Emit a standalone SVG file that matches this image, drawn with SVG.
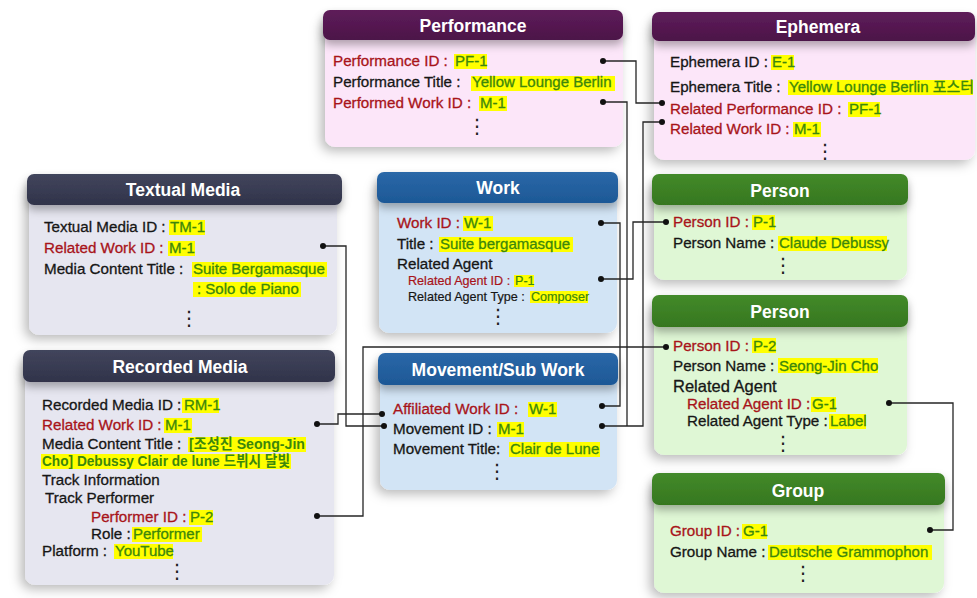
<svg xmlns="http://www.w3.org/2000/svg" width="977" height="598" viewBox="0 0 977 598">
<defs>
  <filter id="boxShadow" x="-20%" y="-20%" width="140%" height="140%">
    <feDropShadow dx="-4" dy="4" stdDeviation="6" flood-color="#000" flood-opacity="0.28"/>
  </filter>
  <filter id="hdrShadow" x="-10%" y="-30%" width="120%" height="190%">
    <feDropShadow dx="0" dy="5" stdDeviation="4" flood-color="#000" flood-opacity="0.3"/>
  </filter>
  <linearGradient id="gPurple" x1="0" y1="0" x2="0" y2="1"><stop offset="0" stop-color="#5e1e5a"/><stop offset="1" stop-color="#4c1248"/></linearGradient>
  <linearGradient id="gNavy" x1="0" y1="0" x2="0" y2="1"><stop offset="0" stop-color="#42455c"/><stop offset="1" stop-color="#30334a"/></linearGradient>
  <linearGradient id="gBlue" x1="0" y1="0" x2="0" y2="1"><stop offset="0" stop-color="#2a68a8"/><stop offset="1" stop-color="#1d5896"/></linearGradient>
  <linearGradient id="gGreen" x1="0" y1="0" x2="0" y2="1"><stop offset="0" stop-color="#438a2a"/><stop offset="1" stop-color="#36771f"/></linearGradient>
</defs>
<style>
  text { font-family: "Liberation Sans", "Noto Sans CJK KR", sans-serif; font-size: 15.2px; fill: #161616; stroke: #161616; stroke-width: 0.3px; }
  .h { font-size: 17.5px; font-weight: bold; fill: #ffffff; stroke: none; text-anchor: middle; }
  .r { fill: #a8141a; stroke: #a8141a; }
  .v { fill: #3c870c; stroke: #3c870c; font-size: 15px; }
  .b { font-weight: bold; stroke-width: 0; }
  .s { font-size: 12.6px; stroke-width: 0.2px; }
  .ra { font-size: 16.5px; }
  .hl { fill: #ffff00; }
  .dots { font-family: "DejaVu Sans", sans-serif; font-size: 20px; text-anchor: middle; fill: #222; stroke: none; }
  .body { filter: url(#boxShadow); }
  .hdr { filter: url(#hdrShadow); }
  .pinkB { fill: #fce6f9; }
  .greyB { fill: #e6e6f0; }
  .blueB { fill: #d2e4f5; }
  .greenB { fill: #dff7d5; }
  .conn path { fill: none; stroke: #262626; stroke-width: 1.3; }
  .conn circle { fill: #111; }
</style>
<rect width="977" height="598" fill="#ffffff"/>

<!-- Performance -->
<g id="performance">
  <rect class="body pinkB" x="325" y="16" width="298" height="131" rx="10"/>
  <rect class="hdr" x="323" y="10" width="300" height="30" rx="7" fill="url(#gPurple)"/>
  <text class="h" x="473" y="32">Performance</text>
  <rect class="hl" x="454" y="54" width="33" height="15"/>
  <text class="r" x="333" y="66">Performance ID :</text><text class="v" x="455" y="66">PF-1</text>
  <rect class="hl" x="471" y="76" width="144" height="15"/>
  <text x="333" y="87">Performance Title :</text><text class="v" x="472" y="87">Yellow Lounge Berlin</text>
  <rect class="hl" x="479" y="96" width="28" height="15"/>
  <text class="r" x="333" y="108">Performed Work ID :</text><text class="v" x="480" y="108">M-1</text>
  <text class="dots" x="477" y="133">⋮</text>
</g>

<!-- Ephemera -->
<g id="ephemera">
  <rect class="body pinkB" x="654" y="18" width="321" height="142" rx="10"/>
  <rect class="hdr" x="652" y="12" width="323" height="29" rx="7" fill="url(#gPurple)"/>
  <text class="h" x="818" y="33">Ephemera</text>
  <rect class="hl" x="771" y="55" width="23" height="15"/>
  <text x="670" y="67">Ephemera ID :</text><text class="v" x="772" y="67">E-1</text>
  <rect class="hl" x="788" y="80" width="185" height="15"/>
  <text x="670" y="92">Ephemera Title :</text><text class="v" x="789" y="92">Yellow Lounge Berlin 포스터</text>
  <rect class="hl" x="848" y="102" width="32" height="15"/>
  <text class="r" x="670" y="114">Related Performance ID :</text><text class="v" x="849" y="114">PF-1</text>
  <rect class="hl" x="793" y="122" width="28" height="15"/>
  <text class="r" x="670" y="134">Related Work ID :</text><text class="v" x="794" y="134">M-1</text>
  <text class="dots" x="825" y="158">⋮</text>
</g>

<!-- Textual Media -->
<g id="textual-media">
  <rect class="body greyB" x="29" y="180" width="308" height="155" rx="10"/>
  <rect class="hdr" x="27" y="174" width="315" height="31" rx="7" fill="url(#gNavy)"/>
  <text class="h" x="183" y="196">Textual Media</text>
  <rect class="hl" x="169" y="220" width="36" height="15"/>
  <text x="44" y="232">Textual Media ID :</text><text class="v" x="170" y="232">TM-1</text>
  <rect class="hl" x="168" y="241" width="27" height="15"/>
  <text class="r" x="44" y="253">Related Work ID :</text><text class="v" x="169" y="253">M-1</text>
  <rect class="hl" x="192" y="262" width="135" height="15"/>
  <text x="44" y="274">Media Content Title :</text><text class="v" x="193" y="274">Suite Bergamasque</text>
  <rect class="hl" x="193" y="282" width="108" height="15"/>
  <text class="v" x="197" y="294">: Solo de Piano</text>
  <text class="dots" x="189" y="325">⋮</text>
</g>

<!-- Work -->
<g id="work">
  <rect class="body blueB" x="379" y="178" width="238" height="155" rx="10"/>
  <rect class="hdr" x="377" y="172" width="241" height="31" rx="7" fill="url(#gBlue)"/>
  <text class="h" x="498" y="194">Work</text>
  <rect class="hl" x="463" y="216" width="30" height="15"/>
  <text class="r" x="397" y="228">Work ID :</text><text class="v" x="464" y="228">W-1</text>
  <rect class="hl" x="439" y="237" width="134" height="15"/>
  <text x="397" y="249">Title :</text><text class="v" x="440" y="249">Suite bergamasque</text>
  <text x="397" y="269">Related Agent</text>
  <rect class="hl" x="514" y="275" width="20" height="12"/>
  <text class="r s" x="408" y="285">Related Agent ID :</text><text class="v s" x="515" y="285">P-1</text>
  <rect class="hl" x="530" y="291" width="58" height="12"/>
  <text class="s" x="408" y="301">Related Agent Type :</text><text class="v s" x="531" y="301">Composer</text>
  <text class="dots" x="498" y="323">⋮</text>
</g>

<!-- Person (composer) -->
<g id="person-1">
  <rect class="body greenB" x="654" y="180" width="253" height="100" rx="10"/>
  <rect class="hdr" x="652" y="174" width="256" height="31" rx="7" fill="url(#gGreen)"/>
  <text class="h" x="780" y="197">Person</text>
  <rect class="hl" x="752" y="215" width="23" height="15"/>
  <text class="r" x="673" y="227">Person ID :</text><text class="v" x="753" y="227">P-1</text>
  <rect class="hl" x="778" y="236" width="109" height="15"/>
  <text x="673" y="248">Person Name :</text><text class="v" x="779" y="248">Claude Debussy</text>
  <text class="dots" x="783" y="272">⋮</text>
</g>

<!-- Person (performer) -->
<g id="person-2">
  <rect class="body greenB" x="654" y="301" width="253" height="154" rx="10"/>
  <rect class="hdr" x="652" y="295" width="256" height="32" rx="7" fill="url(#gGreen)"/>
  <text class="h" x="780" y="318">Person</text>
  <rect class="hl" x="752" y="338" width="24" height="15"/>
  <text class="r" x="673" y="351">Person ID :</text><text class="v" x="753" y="351">P-2</text>
  <rect class="hl" x="778" y="358" width="100" height="15"/>
  <text x="673" y="371">Person Name :</text><text class="v" x="779" y="371">Seong-Jin Cho</text>
  <text class="ra" x="673" y="392">Related Agent</text>
  <rect class="hl" x="811" y="397" width="25" height="15"/>
  <text class="r" x="687" y="409">Related Agent ID :</text><text class="v" x="812" y="409">G-1</text>
  <rect class="hl" x="829" y="414" width="37" height="15"/>
  <text x="687" y="426">Related Agent Type :</text><text class="v" x="830" y="426">Label</text>
  <text class="dots" x="783" y="450">⋮</text>
</g>

<!-- Recorded Media -->
<g id="recorded-media">
  <rect class="body greyB" x="25" y="356" width="309" height="229" rx="10"/>
  <rect class="hdr" x="23" y="350" width="312" height="32" rx="7" fill="url(#gNavy)"/>
  <text class="h" x="180" y="373">Recorded Media</text>
  <rect class="hl" x="182" y="398" width="37" height="15"/>
  <text x="42" y="410">Recorded Media ID :</text><text class="v" x="184" y="410">RM-1</text>
  <rect class="hl" x="164" y="418" width="28" height="15"/>
  <text class="r" x="42" y="430">Related Work ID :</text><text class="v" x="165" y="430">M-1</text>
  <rect class="hl" x="188" y="437" width="118" height="15"/>
  <text x="42" y="449">Media Content Title :</text><text class="v b" x="189" y="449" textLength="116" lengthAdjust="spacingAndGlyphs">[조성진 Seong-Jin</text>
  <rect class="hl" x="41" y="454" width="250" height="15"/>
  <text class="v b" x="42" y="466" textLength="248" lengthAdjust="spacingAndGlyphs">Cho] Debussy Clair de lune 드뷔시 달빛</text>
  <text x="42" y="485">Track Information</text>
  <text x="45" y="503">Track Performer</text>
  <rect class="hl" x="189" y="510" width="24" height="15"/>
  <text class="r" x="91" y="522">Performer ID :</text><text class="v" x="190" y="522">P-2</text>
  <rect class="hl" x="132" y="527" width="70" height="15"/>
  <text x="91" y="539">Role :</text><text class="v" x="133" y="539">Performer</text>
  <rect class="hl" x="114" y="544" width="59" height="15"/>
  <text x="42" y="556">Platform :</text><text class="v" x="115" y="556">YouTube</text>
  <text class="dots" x="177" y="578">⋮</text>
</g>

<!-- Movement / Sub Work -->
<g id="movement">
  <rect class="body blueB" x="380" y="359" width="237" height="131" rx="10"/>
  <rect class="hdr" x="378" y="353" width="240" height="32" rx="7" fill="url(#gBlue)"/>
  <text class="h" x="498" y="376">Movement/Sub Work</text>
  <rect class="hl" x="528" y="402" width="29" height="15"/>
  <text class="r" x="393" y="414">Affiliated Work ID :</text><text class="v" x="529" y="414">W-1</text>
  <rect class="hl" x="497" y="422" width="27" height="15"/>
  <text x="393" y="434">Movement ID :</text><text class="v" x="498" y="434">M-1</text>
  <rect class="hl" x="509" y="442" width="91" height="15"/>
  <text x="393" y="454">Movement Title:</text><text class="v" x="510" y="454">Clair de Lune</text>
  <text class="dots" x="497" y="478">⋮</text>
</g>

<!-- Group -->
<g id="group">
  <rect class="body greenB" x="654" y="479" width="290" height="114" rx="10"/>
  <rect class="hdr" x="652" y="473" width="293" height="32" rx="7" fill="url(#gGreen)"/>
  <text class="h" x="798" y="497">Group</text>
  <rect class="hl" x="742" y="524" width="25" height="15"/>
  <text class="r" x="670" y="536">Group ID :</text><text class="v" x="743" y="536">G-1</text>
  <rect class="hl" x="768" y="545" width="164" height="15"/>
  <text x="670" y="557">Group Name :</text><text class="v" x="769" y="557">Deutsche Grammophon</text>
  <text class="dots" x="803" y="580">⋮</text>
</g>

<!-- Connectors -->
<g id="connectors" class="conn">
  <path d="M603,61 H636 V103 H662"/>
  <path d="M603,102 H627 V426"/>
  <path d="M602,426 H643 V122 H662"/>
  <path d="M601,223 H620 V406 H602"/>
  <path d="M601,279 H633 V222 H666"/>
  <path d="M666,347 H363 V516 H317"/>
  <path d="M323,246 H346 V426 H384"/>
  <path d="M317,424 H338 V414 H382"/>
  <path d="M889,403 H953 V530 H930"/>
  <circle cx="603" cy="61" r="3"/><circle cx="662" cy="103" r="3"/>
  <circle cx="603" cy="102" r="3"/><circle cx="602" cy="426" r="3"/>
  <circle cx="662" cy="122" r="3"/><circle cx="601" cy="223" r="3"/>
  <circle cx="602" cy="406" r="3"/><circle cx="601" cy="279" r="3"/>
  <circle cx="666" cy="222" r="3"/><circle cx="666" cy="347" r="3"/>
  <circle cx="317" cy="516" r="3"/><circle cx="323" cy="246" r="3"/>
  <circle cx="384" cy="426" r="3"/><circle cx="317" cy="424" r="3"/>
  <circle cx="382" cy="414" r="3"/><circle cx="889" cy="403" r="3"/>
  <circle cx="930" cy="530" r="3"/>
</g>
</svg>
